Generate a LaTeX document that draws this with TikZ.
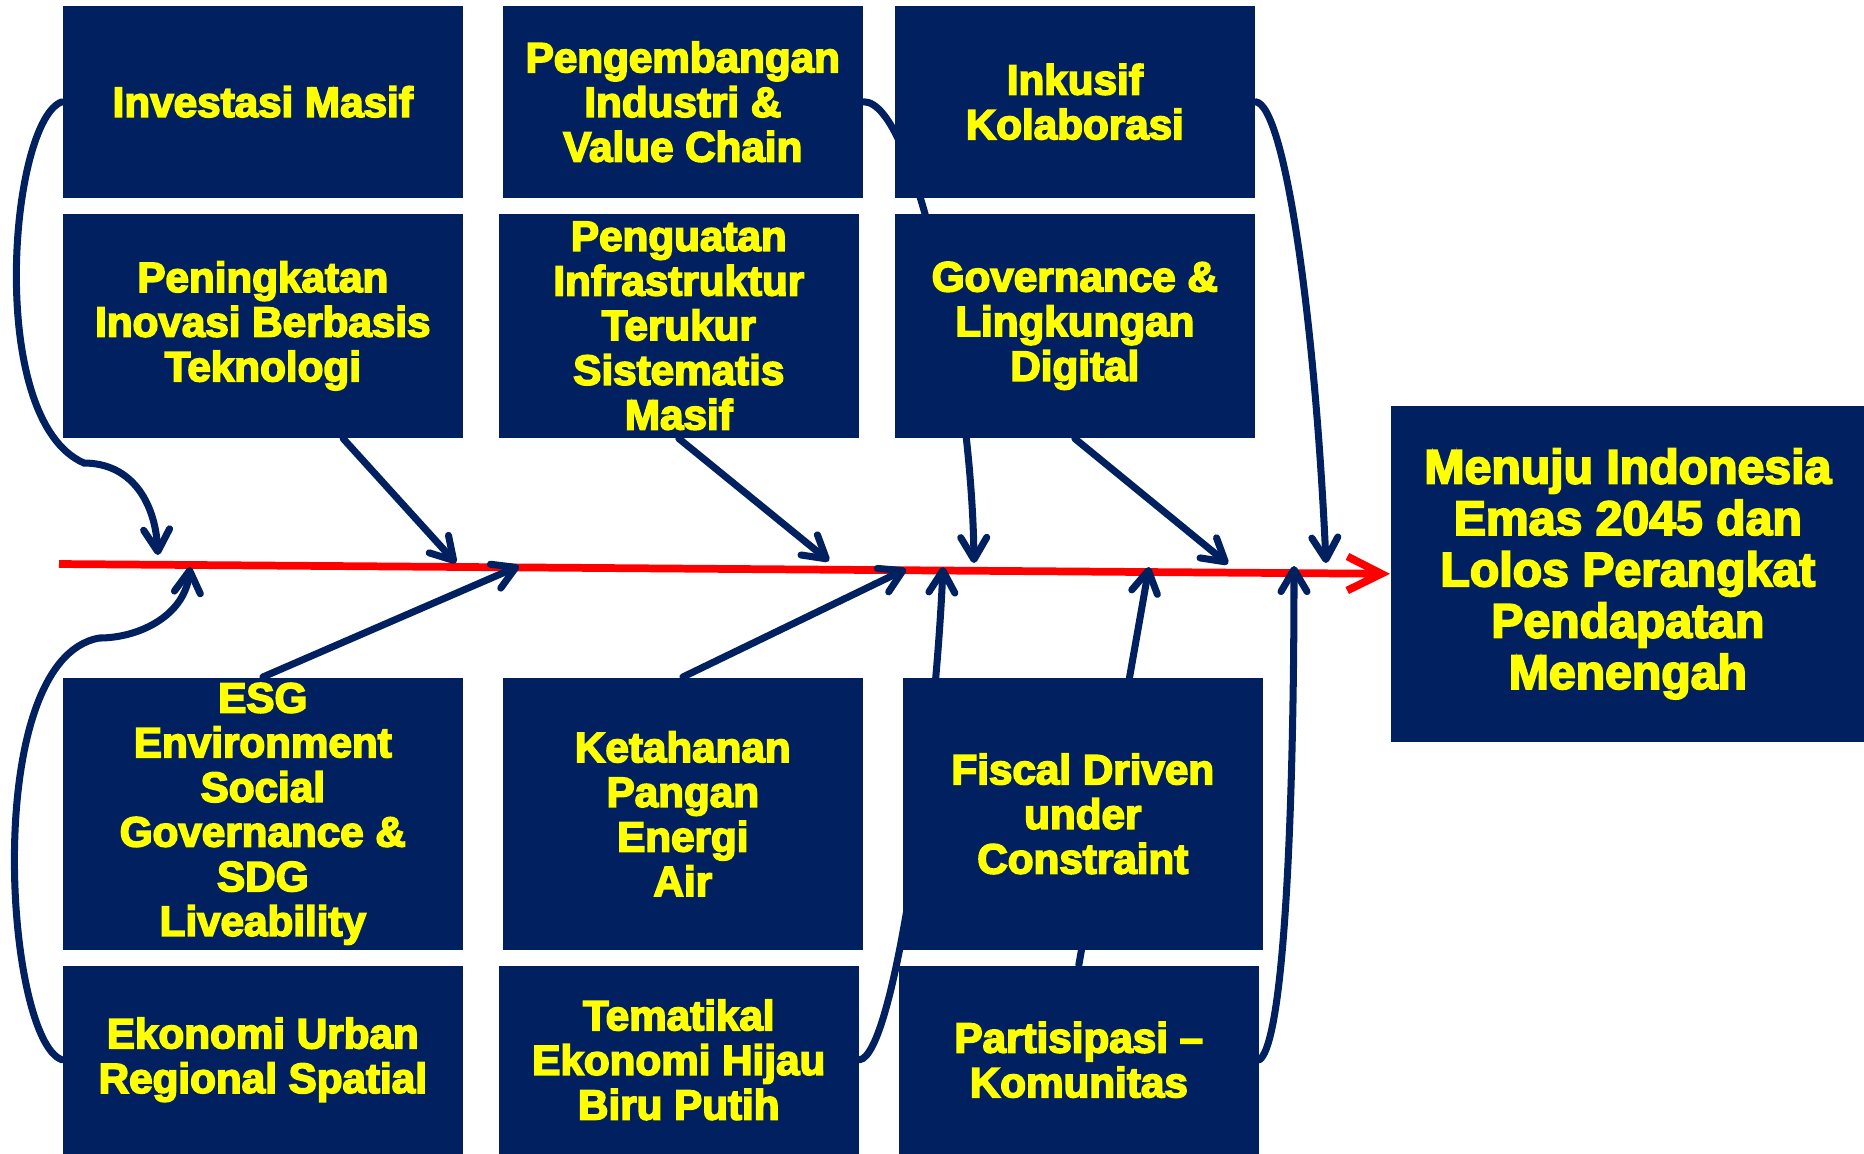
\documentclass[tikz,border=0pt]{standalone}
\usepackage{fontspec}
\setmainfont{Liberation Sans}[BoldFeatures={FakeBold=4}]
\usepackage{tikz}
\usetikzlibrary{arrows.meta,calc,backgrounds}
\definecolor{mNavy}{HTML}{002060}
\definecolor{mYellow}{HTML}{FFFF00}
\definecolor{mRed}{HTML}{FF0000}
\tikzset{
  box/.style  ={rectangle,fill=mNavy,text=mYellow,align=center,inner sep=0pt,anchor=north west,font=\fontsize{12}{12.7}\selectfont\bfseries},
  goal/.style ={box,font=\fontsize{13.7}{14.6}\selectfont\bfseries},
  link/.style ={draw=mNavy,line width=2pt,line cap=round,-{Straight Barb[length=2.2mm,width=2.6mm,round]}},
  spine/.style={draw=mRed,line width=2.2pt,-{Straight Barb[length=3.4mm,width=3.4mm]}},
}

\begin{document}
\begin{tikzpicture}[x=0.01cm,y=-0.01cm]
  \useasboundingbox (0,0) rectangle (1864,1153);
  % upper bones
  \node[box,minimum width=4cm,minimum height=1.92cm] (inv) at (62,5) {Investasi Masif};
  \node[box,minimum width=3.6cm,minimum height=1.92cm] (ind) at (502,5) {Pengembangan\\Industri \&\\Value Chain};
  \node[box,minimum width=3.6cm,minimum height=1.92cm] (ink) at (894,5) {Inkusif\\Kolaborasi};
  \node[box,minimum width=4cm,minimum height=2.24cm] (ino) at (62,213) {Peningkatan\\Inovasi Berbasis\\Teknologi};
  \node[box,minimum width=3.6cm,minimum height=2.24cm] (infra) at (498,213) {Penguatan\\Infrastruktur\\Terukur\\Sistematis\\Masif};
  \node[box,minimum width=3.6cm,minimum height=2.24cm] (gov) at (894,213) {Governance \&\\Lingkungan\\Digital};
  % lower bones
  \node[box,minimum width=4cm,minimum height=2.72cm] (esg) at (62,677) {ESG\\Environment\\Social\\Governance \&\\SDG\\Liveability};
  \node[box,minimum width=3.6cm,minimum height=2.72cm] (ket) at (502,677) {Ketahanan\\Pangan\\Energi\\Air};
  \node[box,minimum width=3.6cm,minimum height=2.72cm] (fis) at (902,677) {Fiscal Driven\\under\\Constraint};
  \node[box,minimum width=4cm,minimum height=1.88cm] (urb) at (62,965) {Ekonomi Urban\\Regional Spatial};
  \node[box,minimum width=3.6cm,minimum height=1.88cm] (tem) at (498,965) {Tematikal\\Ekonomi Hijau\\Biru Putih};
  \node[box,minimum width=3.6cm,minimum height=1.88cm] (par) at (898,965) {Partisipasi –\\Komunitas};
  % head
  \node[goal,minimum width=4.74cm,minimum height=3.36cm] (head) at (1390,405) {Menuju Indonesia\\Emas 2045 dan\\Lolos Perangkat\\Pendapatan\\Menengah};

  \coordinate (tail) at (59,564);
  \coordinate (t1) at (158,555);  \coordinate (t2) at (456,563);
  \coordinate (t3) at (829,561);  \coordinate (t4) at (974,563);
  \coordinate (t5) at (1228,564); \coordinate (t6) at (1326,563);
  \coordinate (b1) at (190,567);  \coordinate (b2) at (519,566);
  \coordinate (b3) at (906,569);  \coordinate (b4) at (943,567);
  \coordinate (b5) at (1149,567); \coordinate (b6) at (1294,566);

  \begin{pgfonlayer}{background}
    \draw[spine] (tail) -- (head.west);
    \draw[link] (inv.west) .. controls (10,120) and (-15,420) .. (84,463) .. controls (130,463) and (155,500) .. (t1);
    \draw[link] ($(ino.south west)!0.7!(ino.south east)$) -- (t2);
    \draw[link] (infra.south) -- (t3);
    \draw[link] (ind.east) .. controls (915,101) and (972,380) .. (t4);
    \draw[link] (gov.south) -- (t5);
    \draw[link] (ink.east) .. controls (1285,105) and (1315,320) .. (t6);
    \draw[link] (urb.west) .. controls (5,1040) and (-20,660) .. (99,638) .. controls (140,638) and (185,615) .. (b1);
    \draw[link] (esg.north) -- (b2);
    \draw[link] (ket.north) -- (b3);
    \draw[link] (tem.east) .. controls (895,1055) and (935,750) .. (b4);
    \draw[link] (par.north) -- (b5);
    \draw[link] (par.east) .. controls (1285,1040) and (1294,800) .. (b6);
  \end{pgfonlayer}
\end{tikzpicture}
\end{document}
